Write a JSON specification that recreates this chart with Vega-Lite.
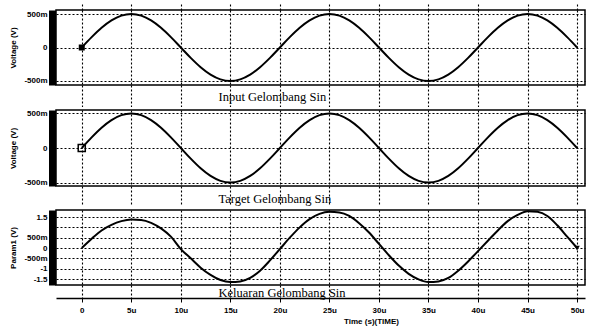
{
  "$schema": "https://vega.github.io/schema/vega-lite/v6.json",
  "background": "white",
  "padding": {"left": 8, "top": 0, "right": 0, "bottom": 0},
  "spacing": 0,
  "config": {
    "view": {"stroke": "black", "strokeWidth": 1.5},
    "axis": {
      "gridColor": "black", "gridDash": [2, 2], "gridOpacity": 1, "gridWidth": 1.1,
      "labelFont": "Liberation Sans", "labelFontWeight": "bold", "labelColor": "black",
      "titleColor": "black", "tickColor": "black", "domainColor": "black"
    }
  },
  "datasets": {
    "sig": [
      {"t": 0, "input": 0, "target": 0, "output": 0},
      {"t": 1, "input": 0.1545, "target": 0.1545, "output": 0.45},
      {"t": 2, "input": 0.2939, "target": 0.2939, "output": 0.85},
      {"t": 3, "input": 0.4045, "target": 0.4045, "output": 1.12},
      {"t": 4, "input": 0.4755, "target": 0.4755, "output": 1.3},
      {"t": 5, "input": 0.5, "target": 0.5, "output": 1.38},
      {"t": 6, "input": 0.4755, "target": 0.4755, "output": 1.36},
      {"t": 7, "input": 0.4045, "target": 0.4045, "output": 1.22},
      {"t": 8, "input": 0.2939, "target": 0.2939, "output": 0.95},
      {"t": 9, "input": 0.1545, "target": 0.1545, "output": 0.55},
      {"t": 10, "input": 0, "target": 0, "output": -0.05},
      {"t": 11, "input": -0.1545, "target": -0.1545, "output": -0.5},
      {"t": 12, "input": -0.2939, "target": -0.2939, "output": -0.95},
      {"t": 13, "input": -0.4045, "target": -0.4045, "output": -1.3},
      {"t": 14, "input": -0.4755, "target": -0.4755, "output": -1.55},
      {"t": 15, "input": -0.5, "target": -0.5, "output": -1.65},
      {"t": 16, "input": -0.4755, "target": -0.4755, "output": -1.62},
      {"t": 17, "input": -0.4045, "target": -0.4045, "output": -1.45},
      {"t": 18, "input": -0.2939, "target": -0.2939, "output": -1.1},
      {"t": 19, "input": -0.1545, "target": -0.1545, "output": -0.6},
      {"t": 20, "input": 0, "target": 0, "output": -0.05},
      {"t": 21, "input": 0.1545, "target": 0.1545, "output": 0.5},
      {"t": 22, "input": 0.2939, "target": 0.2939, "output": 1.0},
      {"t": 23, "input": 0.4045, "target": 0.4045, "output": 1.4},
      {"t": 24, "input": 0.4755, "target": 0.4755, "output": 1.65},
      {"t": 25, "input": 0.5, "target": 0.5, "output": 1.75},
      {"t": 26, "input": 0.4755, "target": 0.4755, "output": 1.72},
      {"t": 27, "input": 0.4045, "target": 0.4045, "output": 1.55},
      {"t": 28, "input": 0.2939, "target": 0.2939, "output": 1.2},
      {"t": 29, "input": 0.1545, "target": 0.1545, "output": 0.75},
      {"t": 30, "input": 0, "target": 0, "output": 0.2},
      {"t": 31, "input": -0.1545, "target": -0.1545, "output": -0.35},
      {"t": 32, "input": -0.2939, "target": -0.2939, "output": -0.85},
      {"t": 33, "input": -0.4045, "target": -0.4045, "output": -1.25},
      {"t": 34, "input": -0.4755, "target": -0.4755, "output": -1.52},
      {"t": 35, "input": -0.5, "target": -0.5, "output": -1.65},
      {"t": 36, "input": -0.4755, "target": -0.4755, "output": -1.62},
      {"t": 37, "input": -0.4045, "target": -0.4045, "output": -1.45},
      {"t": 38, "input": -0.2939, "target": -0.2939, "output": -1.1},
      {"t": 39, "input": -0.1545, "target": -0.1545, "output": -0.65},
      {"t": 40, "input": 0, "target": 0, "output": -0.15},
      {"t": 41, "input": 0.1545, "target": 0.1545, "output": 0.35},
      {"t": 42, "input": 0.2939, "target": 0.2939, "output": 0.85},
      {"t": 43, "input": 0.4045, "target": 0.4045, "output": 1.3},
      {"t": 44, "input": 0.4755, "target": 0.4755, "output": 1.6},
      {"t": 45, "input": 0.5, "target": 0.5, "output": 1.78},
      {"t": 46, "input": 0.4755, "target": 0.4755, "output": 1.75},
      {"t": 47, "input": 0.4045, "target": 0.4045, "output": 1.55},
      {"t": 48, "input": 0.2939, "target": 0.2939, "output": 1.1},
      {"t": 49, "input": 0.1545, "target": 0.1545, "output": 0.55},
      {"t": 50, "input": 0, "target": 0, "output": 0}
    ]
  },
  "vconcat": [
    {
      "width": 529, "height": 75,
      "data": {"name": "sig"},
      "encoding": {
        "y": {"field": "input", "type": "quantitative",
          "scale": {"domain": [-0.56, 0.56], "nice": false, "zero": false},
          "axis": {"values": [-0.5, 0, 0.5], "labelExpr": "datum.value == 0.5 ? '500m' : datum.value == -0.5 ? '-500m' : '0'",
            "domainWidth": 7, "offset": 4, "ticks": false, "tickSize": 0, "labelPadding": 5, "labelFontSize": 8,
            "minExtent": 32, "maxExtent": 32, "grid": true, "labelOverlap": false,
            "title": "Voltage (V)", "titleFont": "Liberation Sans", "titleFontSize": 8, "titleFontWeight": "bold", "titlePadding": 3}}
      },
      "layer": [
        {
          "mark": {"type": "line", "color": "black", "strokeWidth": 2, "interpolate": "monotone"},
          "encoding": {
            "x": {"field": "t", "type": "quantitative",
              "scale": {"domain": [-2.6, 50.8], "nice": false, "zero": false},
              "axis": {"orient": "bottom", "values": [0, 5, 10, 15, 20, 25, 30, 35, 40, 45, 50], "labels": false, "domain": false,
                "ticks": true, "tickDash": [2, 2], "tickSize": 21.5, "tickWidth": 1.1, "grid": true,
                "title": "Input Gelombang Sin", "titleFont": "Liberation Serif", "titleFontSize": 12.5, "titleFontWeight": "normal",
                "titleAlign": "left", "titleX": 162, "titleY": 15.5, "titleBaseline": "alphabetic"}}
          }
        },
        {
          "transform": [{"filter": "datum.t == 0"}],
          "mark": {"type": "point", "shape": "square", "filled": true, "color": "black", "size": 36, "opacity": 1},
          "encoding": {
            "x": {"field": "t", "type": "quantitative",
              "scale": {"domain": [-2.6, 50.8], "nice": false, "zero": false},
              "axis": {"orient": "top", "values": [0, 5, 10, 15, 20, 25, 30, 35, 40, 45, 50], "labels": false, "domain": false,
                "ticks": true, "tickDash": [2, 2], "tickSize": 8, "tickWidth": 1.1, "grid": false, "title": null}}
          }
        }
      ],
      "resolve": {"axis": {"x": "independent"}}
    },
    {
      "width": 529, "height": 76,
      "data": {"name": "sig"},
      "encoding": {
        "y": {"field": "target", "type": "quantitative",
          "scale": {"domain": [-0.55, 0.55], "nice": false, "zero": false},
          "axis": {"values": [-0.5, 0, 0.5], "labelExpr": "datum.value == 0.5 ? '500m' : datum.value == -0.5 ? '-500m' : '0'",
            "domainWidth": 7, "offset": 4, "ticks": false, "tickSize": 0, "labelPadding": 5, "labelFontSize": 8,
            "minExtent": 32, "maxExtent": 32, "grid": true, "labelOverlap": false,
            "title": "Voltage (V)", "titleFont": "Liberation Sans", "titleFontSize": 8, "titleFontWeight": "bold", "titlePadding": 3}}
      },
      "layer": [
        {
          "mark": {"type": "line", "color": "black", "strokeWidth": 2, "interpolate": "monotone"},
          "encoding": {
            "x": {"field": "t", "type": "quantitative",
              "scale": {"domain": [-2.6, 50.8], "nice": false, "zero": false},
              "axis": {"orient": "bottom", "values": [0, 5, 10, 15, 20, 25, 30, 35, 40, 45, 50], "labels": false, "domain": false,
                "ticks": true, "tickDash": [2, 2], "tickSize": 18.5, "tickWidth": 1.1, "grid": true,
                "title": "Target Gelombang Sin", "titleFont": "Liberation Serif", "titleFontSize": 12.5, "titleFontWeight": "normal",
                "titleAlign": "left", "titleX": 162, "titleY": 16, "titleBaseline": "alphabetic"}}
          }
        },
        {
          "transform": [{"filter": "datum.t == 0"}],
          "mark": {"type": "point", "shape": "square", "filled": false, "color": "black", "strokeWidth": 1.5, "size": 50, "opacity": 1},
          "encoding": {
            "x": {"field": "t", "type": "quantitative",
              "scale": {"domain": [-2.6, 50.8], "nice": false, "zero": false}}
          }
        }
      ]
    },
    {
      "width": 529, "height": 75,
      "data": {"name": "sig"},
      "encoding": {
        "y": {"field": "output", "type": "quantitative",
          "scale": {"domain": [-1.79, 1.84], "nice": false, "zero": false},
          "axis": {"values": [-1.5, -1, -0.5, 0, 0.5, 1, 1.5],
            "labelExpr": "datum.value == 1 ? '' : datum.value == 0.5 ? '500m' : datum.value == -0.5 ? '-500m' : datum.value == 0 ? '0' : datum.value == -1 ? '-1' : datum.value == 1.5 ? '1.5' : '-1.5'",
            "domainWidth": 7, "offset": 4, "ticks": false, "tickSize": 0, "labelPadding": 5, "labelFontSize": 8,
            "minExtent": 32, "maxExtent": 32, "grid": true, "labelOverlap": false,
            "title": "Param1 (V)", "titleFont": "Liberation Sans", "titleFontSize": 8, "titleFontWeight": "bold", "titlePadding": 3}}
      },
      "layer": [
        {
          "mark": {"type": "line", "color": "black", "strokeWidth": 2, "interpolate": "monotone"},
          "encoding": {
            "x": {"field": "t", "type": "quantitative",
              "scale": {"domain": [-2.6, 50.8], "nice": false, "zero": false},
              "axis": {"orient": "bottom", "values": [0, 5, 10, 15, 20, 25, 30, 35, 40, 45, 50], "labels": false, "domain": false,
                "ticks": true, "tickDash": [2, 2], "tickSize": 13, "tickWidth": 1.1, "grid": true,
                "title": "Keluaran Gelombang Sin", "titleFont": "Liberation Serif", "titleFontSize": 12.5, "titleFontWeight": "normal",
                "titleAlign": "left", "titleX": 162, "titleY": 11, "titleBaseline": "alphabetic"}}
          }
        },
        {
          "transform": [{"filter": "datum.t == 50"}],
          "mark": {"type": "point", "shape": "triangle-down", "filled": true, "color": "black", "size": 30, "opacity": 1},
          "encoding": {
            "x": {"field": "t", "type": "quantitative",
              "scale": {"domain": [-2.6, 50.8], "nice": false, "zero": false},
              "axis": {"orient": "bottom", "offset": 13, "values": [0, 5, 10, 15, 20, 25, 30, 35, 40, 45, 50],
                "labelExpr": "datum.value == 0 ? '0' : datum.value + 'u'", "labelFontSize": 8, "labelPadding": 4,
                "domain": true, "domainWidth": 1.5, "ticks": true, "tickSize": 4, "tickWidth": 1, "grid": false,
                "title": "Time (s)(TIME)", "titleFont": "Liberation Sans", "titleFontSize": 8, "titleFontWeight": "bold",
                "titlePadding": 3, "titleX": 315}}
          }
        }
      ],
      "resolve": {"axis": {"x": "independent"}}
    }
  ]
}
